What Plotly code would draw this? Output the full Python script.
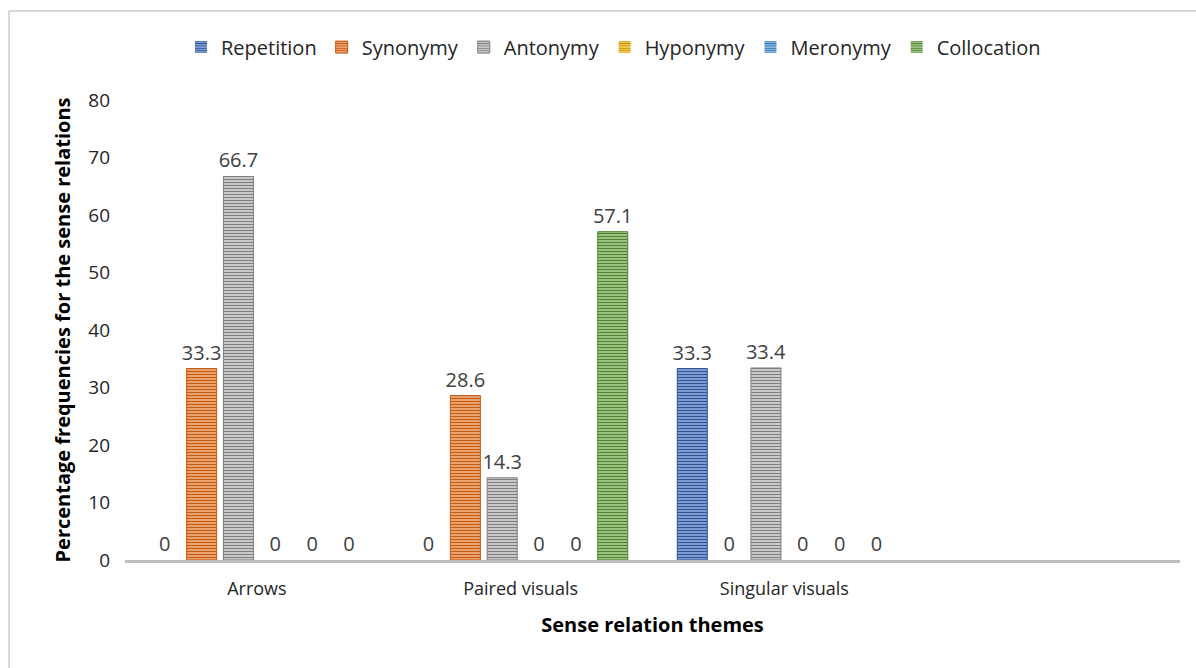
import plotly.graph_objects as go

# Sense relation themes (x categories) and series values (percent)
themes = ["Arrows", "Paired visuals", "Singular visuals"]
series_names = ["Repetition", "Synonymy", "Antonymy", "Hyponymy", "Meronymy", "Collocation"]
repetition = [0, 0, 33.3]
synonymy = [33.3, 28.6, 0]
antonymy = [66.7, 14.3, 33.4]
hyponymy = [0, 0, 0]
meronymy = [0, 0, 0]
collocation = [0, 57.1, 0]
y_ticks = [0, 10, 20, 30, 40, 50, 60, 70, 80]

series_values = [repetition, synonymy, antonymy, hyponymy, meronymy, collocation]
base_colors = ["#4472C4", "#ED7D31", "#A5A5A5", "#FFC000", "#5B9BD5", "#70AD47"]
dark_colors = ["#2F5597", "#C55A11", "#7F7F7F", "#BF9000", "#2E75B6", "#548235"]
light_colors = ["#8FAADC", "#F4B183", "#D9D9D9", "#FFD966", "#9DC3E6", "#A9D18E"]

FONT = "'Open Sans', 'Noto Sans', sans-serif"
x_pos = list(range(len(themes)))

fig = go.Figure()
for name, vals, c, dk, lt in zip(series_names, series_values, base_colors, dark_colors, light_colors):
    # no outline on empty bars so they do not leave a stub on the baseline
    outline_w = [1 if v > 0 else 0 for v in vals]
    fig.add_trace(go.Bar(
        name=name,
        x=x_pos,
        y=vals,
        texttemplate="%{y}",
        textposition="outside",
        constraintext="none",
        cliponaxis=False,
        textfont=dict(family=FONT, size=20, color="#404040"),
        marker=dict(
            color=c,
            line=dict(color=dk, width=outline_w),
            pattern=dict(shape="-", size=3, solidity=0.45, fgcolor=dk, bgcolor=lt, fillmode="replace"),
        ),
    ))

fig.update_layout(
    width=1196,
    height=668,
    paper_bgcolor="white",
    plot_bgcolor="white",
    barmode="group",
    bargap=0.162,
    bargroupgap=0.185,
    margin=dict(l=125, r=16, t=100, b=108),
    font=dict(family=FONT, size=20, color="#404040"),
    showlegend=True,
    legend=dict(
        orientation="h",
        x=0.463, y=1.115, xanchor="center", yanchor="middle",
        font=dict(family=FONT, size=20, color="#262626"),
        itemwidth=30,
        traceorder="normal",
    ),
    xaxis=dict(
        range=[-0.5, 3.5],
        tickvals=x_pos,
        ticktext=themes,
        showgrid=False,
        zeroline=False,
        showline=True,
        linecolor="#BFBFBF",
        linewidth=3,
        ticks="",
        ticklabelstandoff=10,
        tickfont=dict(family=FONT, size=18, color="#262626"),
        title=dict(text="<b>Sense relation themes</b>", font=dict(family=FONT, size=20, color="#000000"), standoff=20),
    ),
    yaxis=dict(
        range=[0, 80],
        tickvals=y_ticks,
        showgrid=False,
        zeroline=False,
        showline=False,
        ticks="",
        ticklabelstandoff=14,
        tickfont=dict(family=FONT, size=19, color="#262626"),
        title=dict(text="<b>Percentage frequencies for the sense relations</b>", font=dict(family=FONT, size=20, color="#000000"), standoff=12),
    ),
    shapes=[
        dict(type="line", xref="paper", yref="paper", x0=-0.110, x1=-0.110, y0=-0.3, y1=1.1935,
             line=dict(color="#D9D9D9", width=2)),
        dict(type="line", xref="paper", yref="paper", x0=-0.110, x1=1.1, y0=1.1935, y1=1.1935,
             line=dict(color="#D9D9D9", width=2)),
    ],
)

fig.write_html("out.html")
